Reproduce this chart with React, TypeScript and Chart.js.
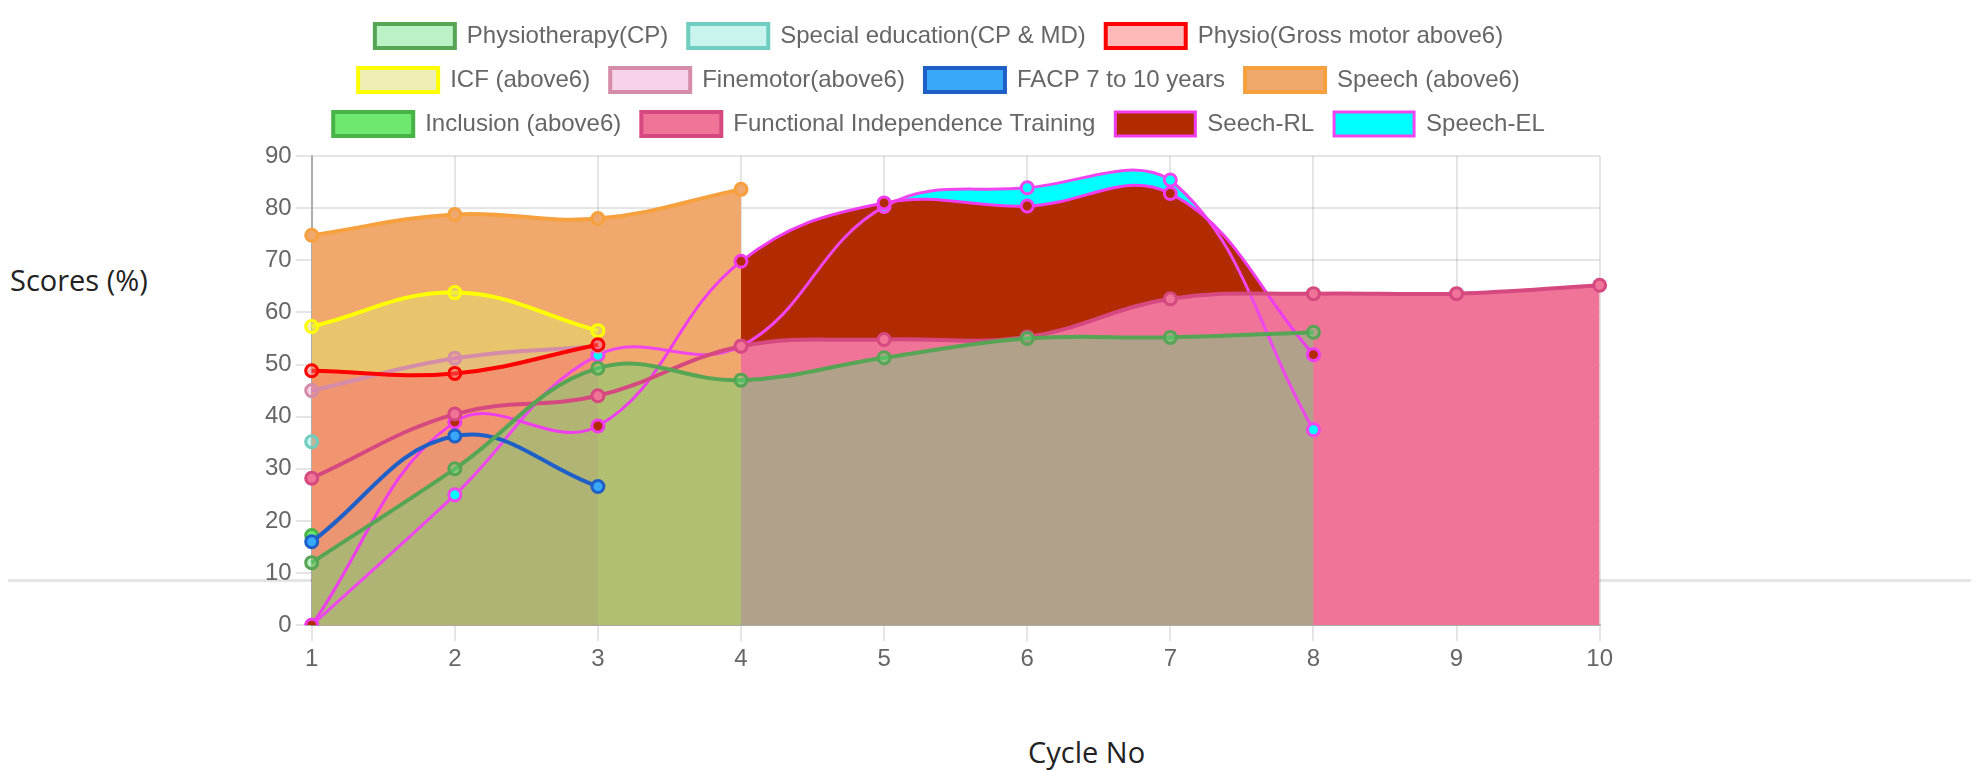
import React, { useEffect, useRef } from 'react';
import { Chart, registerables } from 'chart.js';

Chart.register(...registerables);

const cycles = ['1', '2', '3', '4', '5', '6', '7', '8', '9', '10'];
const yTicksMin = 0;
const yTicksMax = 90;
const yStep = 10;

const physiotherapyCP = [12, 30, 49.3, 47, 51.3, 55, 55.2, 56.2];
const specialEducation = [35.2];
const physioGrossMotor = [48.8, 48.3, 53.8];
const icfAbove6 = [57.3, 63.8, 56.5];
const finemotorAbove6 = [45, 51.2, 53.5];
const facp7to10 = [16, 36.3, 26.6];
const speechAbove6 = [74.8, 78.8, 78, 83.6];
const inclusionAbove6 = [17.2];
const functionalIndependence = [28.2, 40.5, 44, 53.5, 54.8, 55.3, 62.6, 63.6, 63.6, 65.2];
const seechRL = [0, 39, 38.2, 69.8, 81, 80.4, 82.8, 51.9];
const speechEL = [0, 25, 51.8, 53.5, 80.3, 83.9, 85.4, 37.5];

const FONT = "'Helvetica Neue', Helvetica, Arial, 'Liberation Sans', sans-serif";

export default function App() {
  const ref = useRef<HTMLCanvasElement>(null);

  useEffect(() => {
    const canvas = ref.current;
    if (!canvas) return;
    const ds = (label: string, data: number[], bg: string, border: string, extra: any = {}) => ({
      label,
      data,
      backgroundColor: bg,
      borderColor: border,
      borderWidth: 4,
      pointRadius: 6,
      pointHoverRadius: 6,
      pointBorderWidth: 3,
      tension: 0.4,
      fill: 'origin',
      ...extra,
    });

    const legendGap = {
      id: 'legendGap',
      beforeInit(chart: any) {
        const legend = chart.legend;
        if (legend && !legend.__patched) {
          const orig = legend.fit;
          legend.fit = function () {
            orig.call(this);
            this.height += 10;
          };
          legend.__patched = true;
        }
      },
    };

    const chart = new Chart(canvas, {
      type: 'line',
      data: {
        labels: cycles,
        datasets: [
          ds('Physiotherapy(CP)', physiotherapyCP, 'rgba(90,225,120,0.42)', 'rgb(85,165,85)'),
          ds('Special education(CP & MD)', specialEducation, 'rgba(120,225,210,0.4)', 'rgb(110,205,190)'),
          ds('Physio(Gross motor above6)', physioGrossMotor, 'rgba(255,100,100,0.45)', 'rgb(255,0,0)'),
          ds('ICF (above6)', icfAbove6, 'rgba(224,224,108,0.5)', 'rgb(255,255,0)'),
          ds('Finemotor(above6)', finemotorAbove6, 'rgba(230,130,190,0.35)', 'rgb(212,140,168)'),
          ds('FACP 7 to 10 years', facp7to10, 'rgb(58,168,248)', 'rgb(31,95,200)', {
            fill: { target: 'origin', above: 'rgba(58,168,248,0.15)', below: 'rgba(58,168,248,0.15)' },
          }),
          ds('Speech (above6)', speechAbove6, 'rgb(240,168,108)', 'rgb(246,160,62)'),
          ds('Inclusion (above6)', inclusionAbove6, 'rgb(110,232,110)', 'rgb(72,180,72)'),
          ds('Functional Independence Training', functionalIndependence, 'rgb(240,116,152)', 'rgb(214,72,128)'),
          ds('Seech-RL', seechRL, 'rgb(178,42,0)', 'rgb(240,60,240)', { borderWidth: 3 }),
          ds('Speech-EL', speechEL, 'rgb(0,255,255)', 'rgb(240,70,240)', { borderWidth: 3 }),
        ],
      },
      options: {
        animation: false,
        responsive: false,
        maintainAspectRatio: false,
        layout: { padding: 0 },
        font: { family: FONT, size: 24 },
        plugins: {
          filler: { drawTime: 'beforeDatasetsDraw' },
          tooltip: { enabled: false },
          legend: {
            position: 'top',
            labels: {
              boxWidth: 80,
              boxHeight: 24,
              padding: 20,
              color: '#666',
              font: { family: FONT, size: 24 },
            },
          },
        },
        scales: {
          x: {
            grid: { color: 'rgba(0,0,0,0.1)', lineWidth: 2, tickLength: 16 },
            border: { color: 'rgba(0,0,0,0.25)', width: 2 },
            ticks: { color: '#666', padding: 4, maxRotation: 0, autoSkip: false, font: { family: FONT, size: 24 } },
          },
          y: {
            min: yTicksMin,
            max: yTicksMax,
            grid: { color: 'rgba(0,0,0,0.1)', lineWidth: 2, tickLength: 16 },
            border: { color: 'rgba(0,0,0,0.25)', width: 2 },
            ticks: { stepSize: yStep, color: '#666', padding: 4, font: { family: FONT, size: 24 } },
          },
        },
      } as any,
      plugins: [legendGap],
    });
    return () => chart.destroy();
  }, []);

  return (
    <div style={{ position: 'relative', width: 1963, height: 762 }}>
      <div style={{ position: 'absolute', left: 0, top: 571, width: 1963, height: 3, background: '#e4e4e4' }} />
      <canvas
        ref={ref}
        width={1356}
        height={674}
        style={{ position: 'absolute', left: 253, top: -4, width: 1356, height: 674 }}
      />
      <div
        style={{
          position: 'absolute',
          left: 2,
          top: 252,
          fontFamily: "'Open Sans', sans-serif",
          fontSize: 29,
          lineHeight: '40px',
          color: '#222',
          whiteSpace: 'nowrap',
        }}
      >
        Scores (%)
      </div>
      <div
        style={{
          position: 'absolute',
          left: 1020,
          top: 729,
          fontFamily: "'Open Sans', sans-serif",
          fontSize: 29,
          lineHeight: '30px',
          height: 30,
          color: '#222',
          whiteSpace: 'nowrap',
        }}
      >
        Cycle No
      </div>
    </div>
  );
}
